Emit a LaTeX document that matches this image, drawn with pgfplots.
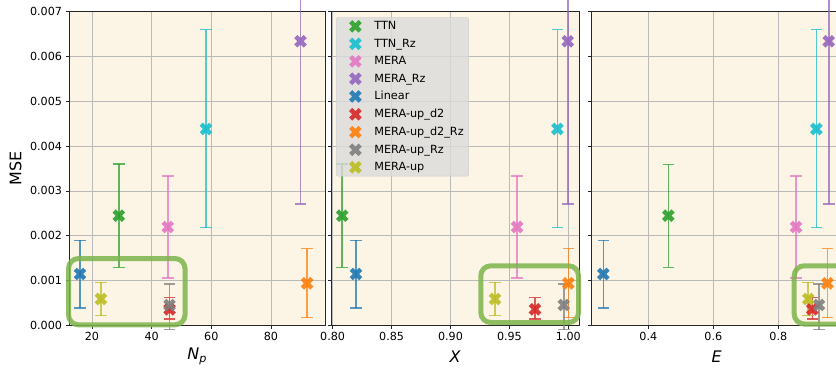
\documentclass[border=0pt]{standalone}
\usepackage{fontspec}
\setmainfont{DejaVu Sans}
\usepackage{pgfplots}
\usepackage{pgfplotstable}
\pgfplotsset{compat=1.18}

\definecolor{tabblue}{RGB}{31,119,180}
\definecolor{taborange}{RGB}{255,127,14}
\definecolor{tabgreen}{RGB}{44,160,44}
\definecolor{tabred}{RGB}{214,39,40}
\definecolor{tabpurple}{RGB}{148,103,189}
\definecolor{tabpink}{RGB}{227,119,194}
\definecolor{tabgray}{RGB}{127,127,127}
\definecolor{tabolive}{RGB}{188,189,34}
\definecolor{tabcyan}{RGB}{23,190,207}
\definecolor{cream}{RGB}{252,244,228}
\definecolor{hlgreen}{RGB}{125,180,75}

\pgfdeclareplotmark{Xf}{%
\pgfpathmoveto{\pgfpoint{-0.5\pgfplotmarksize}{-\pgfplotmarksize}}%
\pgfpathlineto{\pgfpoint{0pt}{-0.5\pgfplotmarksize}}%
\pgfpathlineto{\pgfpoint{0.5\pgfplotmarksize}{-\pgfplotmarksize}}%
\pgfpathlineto{\pgfpoint{\pgfplotmarksize}{-0.5\pgfplotmarksize}}%
\pgfpathlineto{\pgfpoint{0.5\pgfplotmarksize}{0pt}}%
\pgfpathlineto{\pgfpoint{\pgfplotmarksize}{0.5\pgfplotmarksize}}%
\pgfpathlineto{\pgfpoint{0.5\pgfplotmarksize}{\pgfplotmarksize}}%
\pgfpathlineto{\pgfpoint{0pt}{0.5\pgfplotmarksize}}%
\pgfpathlineto{\pgfpoint{-0.5\pgfplotmarksize}{\pgfplotmarksize}}%
\pgfpathlineto{\pgfpoint{-\pgfplotmarksize}{0.5\pgfplotmarksize}}%
\pgfpathlineto{\pgfpoint{-0.5\pgfplotmarksize}{0pt}}%
\pgfpathlineto{\pgfpoint{-\pgfplotmarksize}{-0.5\pgfplotmarksize}}%
\pgfpathclose
\pgfusepathqfill}

% columns: Np, X, E, MSE, error up, error down
\pgfplotstableread{
Np X E mse ep em
29 0.8081 0.4615 0.002446 0.00115 0.00115
}\tTTN
\pgfplotstableread{
Np X E mse ep em
58.2 0.9907 0.917 0.004382 0.00222 0.00220
}\tTTNRz
\pgfplotstableread{
Np X E mse ep em
45.4 0.9565 0.8545 0.002194 0.00114 0.00114
}\tMERA
\pgfplotstableread{
Np X E mse ep em
89.9 0.9995 0.955 0.006339 0.00363 0.00363
}\tMERARz
\pgfplotstableread{
Np X E mse ep em
16 0.8198 0.2615 0.001145 0.00075 0.00076
}\tLinear
\pgfplotstableread{
Np X E mse ep em
46 0.9717 0.9046 0.000357 0.00026 0.00022
}\tMERAupdTwo
\pgfplotstableread{
Np X E mse ep em
92.1 1.0 0.951 0.000938 0.00077 0.00077
}\tMERAupdTwoRz
\pgfplotstableread{
Np X E mse ep em
46 0.9961 0.925 0.000453 0.00047 0.00055
}\tMERAupRz
\pgfplotstableread{
Np X E mse ep em
23 0.9378 0.892 0.000587 0.00037 0.00037
}\tMERAup

\pgfplotsset{
  every error bar/.append style={line width=1.6bp, opacity=0.75},
  ser/.style={only marks, mark=Xf, mark size=6.3bp, color=#1,
    mark options={fill opacity=0.9},
    legend image code/.code={\path (0bp,0bp) (32.8bp,0bp); \draw[##1] plot coordinates {(16bp,0bp)};},
    error bars/.cd, y dir=both, y explicit,
    error bar style={line width=1.6bp, opacity=0.75},
    error mark options={rotate=90, line width=1.4bp, mark size=5.8bp, opacity=0.75}},
  panel/.style={
    scale only axis, clip=false,
    ymin=0, ymax=0.007,
    ytick={0,0.001,...,0.007},
    scaled y ticks=false, scaled x ticks=false,
    axis background/.style={fill=cream},
    grid=major,
    major grid style={line width=0.8bp, color=black!27},
    axis line style={line width=0.8bp, black!85},
    tick align=outside, tick pos=left,
    major tick length=3.5bp,
    tick style={line width=0.8bp, black!85},
    tick label style={font=\fontsize{11.2}{13}\selectfont},
    /pgf/number format/assume math mode=true,
    label style={font=\fontsize{16}{19}\selectfont},
    xlabel style={at={(axis description cs:0.5,0)}, anchor=center, yshift=-31bp},
    ylabel style={at={(axis description cs:-0.208,0.5)}, anchor=center},
  },
}

\newcommand{\allseries}[1]{%
  \addplot[ser=tabgreen] table[x=#1, y=mse, y error plus=ep, y error minus=em] {\tTTN};
  \addplot[ser=tabcyan] table[x=#1, y=mse, y error plus=ep, y error minus=em] {\tTTNRz};
  \addplot[ser=tabpink] table[x=#1, y=mse, y error plus=ep, y error minus=em] {\tMERA};
  \addplot[ser=tabpurple] table[x=#1, y=mse, y error plus=ep, y error minus=em] {\tMERARz};
  \addplot[ser=tabblue] table[x=#1, y=mse, y error plus=ep, y error minus=em] {\tLinear};
  \addplot[ser=tabred] table[x=#1, y=mse, y error plus=ep, y error minus=em] {\tMERAupdTwo};
  \addplot[ser=taborange] table[x=#1, y=mse, y error plus=ep, y error minus=em] {\tMERAupdTwoRz};
  \addplot[ser=tabgray] table[x=#1, y=mse, y error plus=ep, y error minus=em] {\tMERAupRz};
  \addplot[ser=tabolive] table[x=#1, y=mse, y error plus=ep, y error minus=em] {\tMERAup};
}

\begin{document}
\begin{tikzpicture}[x=1bp,y=1bp]
\useasboundingbox (0,0) rectangle (836,371);
\clip (0,0) rectangle (836,371);

% panel 1: N_p
\begin{axis}[panel, at={(69bp,45.7bp)}, anchor=south west,
  width=256.3bp, height=313.6bp,
  xmin=12.3, xmax=98.2, xtick={20,40,60,80},
  yticklabel style={/pgf/number format/.cd, fixed, fixed zerofill, precision=3},
  xlabel={\textit{N}\textsubscript{\textit{p}}}, ylabel={MSE}]
\allseries{Np}
\end{axis}

% panel 2: X
\begin{axis}[panel, at={(331bp,45.7bp)}, anchor=south west,
  width=248.3bp, height=313.6bp,
  xmin=0.7986, xmax=1.0093, xtick={0.80,0.85,0.90,0.95,1.00},
  xticklabel style={/pgf/number format/.cd, fixed, fixed zerofill, precision=2},
  yticklabels={},
  xlabel={\textit{X}},
  legend cell align=left,
  legend style={at={(axis description cs:0,1)}, anchor=north west,
    xshift=5bp, yshift=-5.6bp,
    fill=black!14, fill opacity=0.8, text opacity=1, draw=black!20,
    rounded corners=2bp,
    font=\fontsize{11.3}{13}\selectfont,
    row sep=3.8bp},
  ]
\allseries{X}
\legend{TTN, TTN\_Rz, MERA, MERA\_Rz, Linear, MERA-up\_d2, MERA-up\_d2\_Rz, MERA-up\_Rz, MERA-up}
\end{axis}

% panel 3: E
\begin{axis}[panel, at={(591.7bp,45.7bp)}, anchor=south west,
  width=250bp, height=313.6bp,
  xmin=0.2258, xmax=0.995, xtick={0.4,0.6,0.8},
  xticklabel style={/pgf/number format/.cd, fixed, fixed zerofill, precision=1},
  yticklabels={},
  xlabel={\textit{E}}]
\allseries{E}
\end{axis}

% highlight boxes
\draw[hlgreen, draw opacity=0.85, line width=5bp, rounded corners=10bp]
  (68.5,112.5) rectangle (185,46.2);
\draw[hlgreen, draw opacity=0.85, line width=5bp, rounded corners=10bp]
  (480.8,105.2) rectangle (578.5,48.5);
\draw[hlgreen, draw opacity=0.85, line width=5bp, rounded corners=10bp]
  (794.2,105.2) rectangle (880,47);
\end{tikzpicture}
\end{document}
